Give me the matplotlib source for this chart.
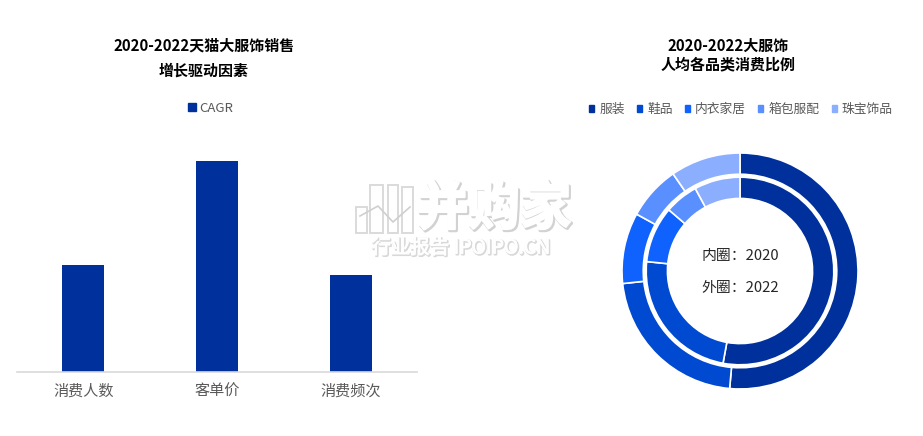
import matplotlib
matplotlib.use("Agg")
import matplotlib.pyplot as plt
import matplotlib.patheffects as pe
from matplotlib.patches import Rectangle
from matplotlib.lines import Line2D

plt.rcParams['font.family'] = ['Noto Sans CJK SC', 'DejaVu Sans']

# ── data ───────────────────────────────────────────────────────────────────
DRIVERS = ["消费人数", "客单价", "消费频次"]
CAGR = [10.7, 21.1, 9.7]

CATEGORIES = ["服装", "鞋品", "内衣家居", "箱包服配", "珠宝饰品"]
SHARE_2020 = [52.9, 23.7, 9.7, 5.8, 7.9]
SHARE_2022 = [51.4, 21.9, 9.7, 7.4, 9.6]

# ── palette ────────────────────────────────────────────────────────────────
NAVY = "#00309C"
RING_COLORS = [NAVY, "#0049D1", "#0F62FE", "#5A8FFF", "#8CAEFF"]
GREY = "#595959"
INK = "#262626"
LINE = "#D9D9D9"

W, H = 923, 436


def fig_axes(fig, x0, y0, x1, y1):
    # pixel box, y measured from the top of the image
    return fig.add_axes([x0 / W, 1 - y1 / H, (x1 - x0) / W, (y1 - y0) / H])


fig = plt.figure(figsize=(W / 100, H / 100), dpi=100, facecolor="white")

# ── left: bars ─────────────────────────────────────────────────────────────
ax = fig_axes(fig, 16.5, 140, 417.5, 372)
ax.bar(range(len(DRIVERS)), CAGR, width=0.313, color=NAVY, label="CAGR")
ax.set_xlim(-0.5, 2.5)
ax.set_ylim(0, 23.2)
ax.set_yticks([])
ax.set_xticks(range(len(DRIVERS)))
ax.set_xticklabels(DRIVERS, color=GREY, fontsize=10.9)
ax.tick_params(axis="x", length=0, pad=8)
ax.spines[["top", "right", "left"]].set_visible(False)
ax.spines["bottom"].set_color(LINE)
ax.spines["bottom"].set_linewidth(1.2)

fig.text(204 / W, 1 - 46 / H, "2020-2022天猫大服饰销售", ha="center", va="center",
         fontsize=10.8, fontweight="bold", color="black")
fig.text(204 / W, 1 - 71 / H, "增长驱动因素", ha="center", va="center",
         fontsize=10.8, fontweight="bold", color="black")
fig.legend(handles=[Rectangle((0, 0), 1, 1, color=NAVY)], labels=["CAGR"],
           loc="center", bbox_to_anchor=(211 / W, 1 - 108.5 / H), frameon=False,
           fontsize=9.5, labelcolor=GREY, handlelength=0.55, handleheight=0.55,
           handletextpad=0.3, borderpad=0)

# ── right: double donut ────────────────────────────────────────────────────
ax2 = fig_axes(fig, 620, 151, 860, 391)
wedge_kw = dict(edgecolor="white", linewidth=1.2)
ax2.pie(SHARE_2022, colors=RING_COLORS, startangle=90, counterclock=False,
        radius=1.0, wedgeprops=dict(width=0.18, **wedge_kw))
ax2.pie(SHARE_2020, colors=RING_COLORS, startangle=90, counterclock=False,
        radius=0.795, wedgeprops=dict(width=0.18, **wedge_kw))
ax2.set_xlim(-240 / 236, 240 / 236)
ax2.set_ylim(-240 / 236, 240 / 236)
ax2.text(0, 0.125, "内圈：2020", ha="center", va="center", fontsize=10.7, color=INK)
ax2.text(0, -0.145, "外圈：2022", ha="center", va="center", fontsize=10.7, color=INK)

fig.text(728 / W, 1 - 46 / H, "2020-2022大服饰", ha="center", va="center",
         fontsize=10.8, fontweight="bold", color="black")
fig.text(728 / W, 1 - 64 / H, "人均各品类消费比例", ha="center", va="center",
         fontsize=10.8, fontweight="bold", color="black")

handles = [Rectangle((0, 0), 1, 1, color=c) for c in RING_COLORS]
fig.legend(handles=handles, labels=CATEGORIES, loc="center", ncol=5,
           bbox_to_anchor=(741 / W, 1 - 109.5 / H), frameon=False, fontsize=9.2,
           labelcolor=GREY, handlelength=0.4, handleheight=0.4,
           handletextpad=0.4, columnspacing=0.95, borderpad=0)

# ── watermark ──────────────────────────────────────────────────────────────
shadow = [pe.Stroke(linewidth=2.5, foreground="#D2D2D2", offset=(1, -1)),
          pe.Stroke(linewidth=1.5, foreground="white"), pe.Normal()]
soft = [pe.Stroke(linewidth=1.5, foreground="#D8D8D8", offset=(0.7, -0.7)),
        pe.Stroke(linewidth=0.6, foreground="white"), pe.Normal()]
fig.text(494 / W, 1 - 209 / H, "并购家", ha="center", va="center", fontsize=37,
         fontweight="bold", color="white", path_effects=shadow, zorder=10)
fig.text(461 / W, 1 - 248 / H, "行业报告 IPOIPO.CN", ha="center", va="center",
         fontsize=14, color="white", path_effects=soft, zorder=10)
for x0, x1, y0 in [(356, 367, 207), (370, 383, 185), (388, 398, 185), (402, 413, 187)]:
    fig.add_artist(Rectangle((x0 / W, 1 - 233 / H), (x1 - x0) / W, (233 - y0) / H,
                             transform=fig.transFigure, facecolor="none",
                             edgecolor="#DADADA", linewidth=1.4, zorder=9))
fig.add_artist(Line2D([360 / W, 378 / W, 393 / W, 410 / W],
                      [1 - 216 / H, 1 - 206 / H, 1 - 222 / H, 1 - 207 / H],
                      transform=fig.transFigure, color="#CFCFCF", linewidth=1.2, zorder=9))

fig.savefig("out.png", dpi=100, facecolor="white")
plt.close(fig)
